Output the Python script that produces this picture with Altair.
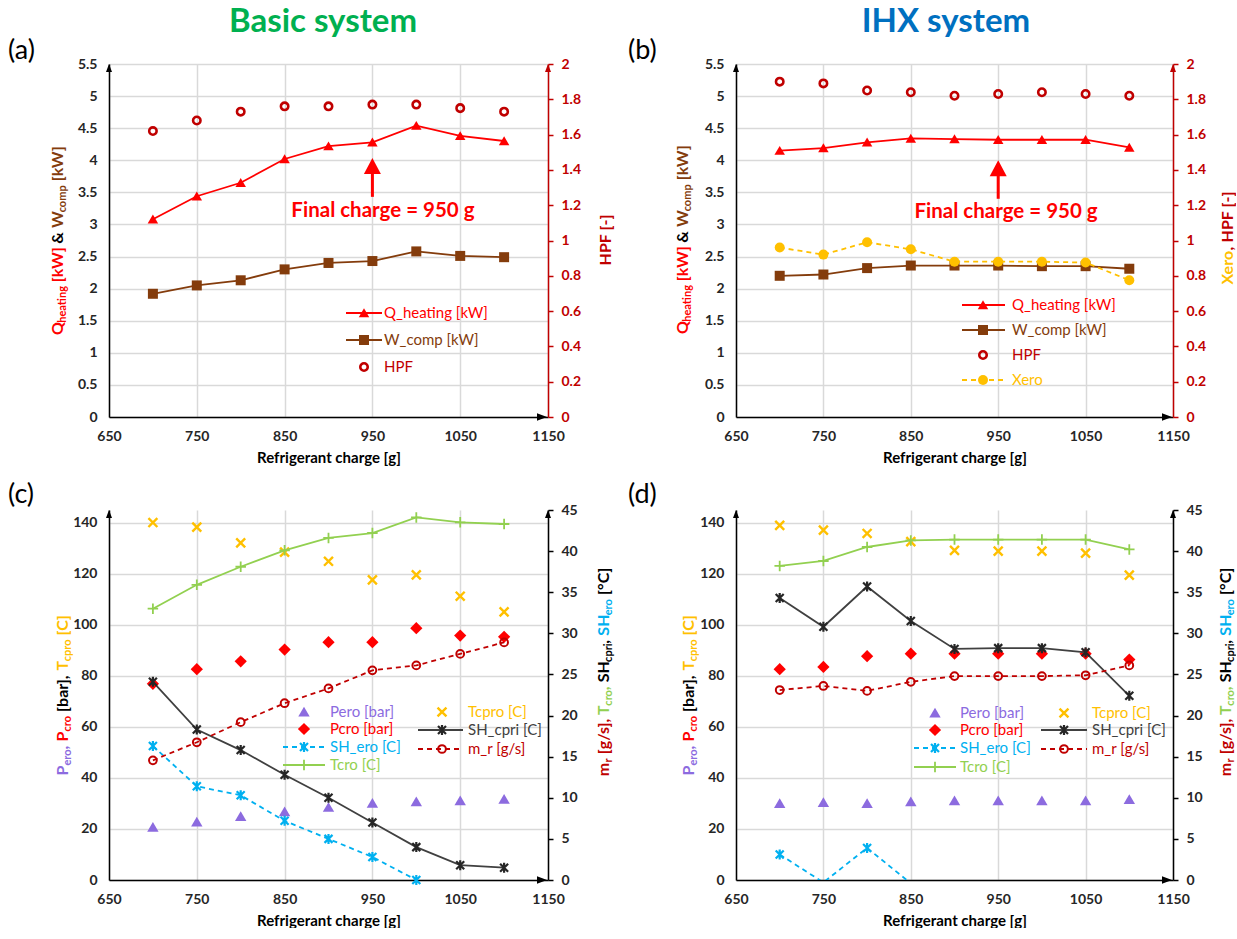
import altair as alt
import pandas as pd

# ---------------- data ----------------
charge = [700, 750, 800, 850, 900, 950, 1000, 1050, 1100]

# (a) Basic system
a_q_heating = [3.08, 3.44, 3.65, 4.02, 4.22, 4.28, 4.54, 4.38, 4.30]
a_w_comp = [1.92, 2.05, 2.13, 2.30, 2.40, 2.43, 2.58, 2.51, 2.49]
a_hpf = [1.62, 1.68, 1.73, 1.76, 1.76, 1.77, 1.77, 1.75, 1.73]

# (b) IHX system
b_q_heating = [4.15, 4.19, 4.28, 4.34, 4.33, 4.32, 4.32, 4.32, 4.20]
b_w_comp = [2.20, 2.22, 2.32, 2.36, 2.36, 2.36, 2.35, 2.35, 2.31]
b_hpf = [1.90, 1.89, 1.85, 1.84, 1.82, 1.83, 1.84, 1.83, 1.82]
b_xero = [0.96, 0.92, 0.99, 0.95, 0.88, 0.88, 0.88, 0.875, 0.775]

# (c) Basic system
c_pero = [20.7, 22.8, 24.9, 26.8, 28.5, 30.1, 30.7, 31.1, 31.7]
c_pcro = [76.9, 82.6, 85.7, 90.3, 93.2, 93.2, 98.7, 95.8, 95.3]
c_tcpro = [140.1, 138.3, 132.1, 128.5, 124.9, 117.6, 119.6, 111.2, 105.1]
c_tcro = [33.0, 35.9, 38.1, 40.1, 41.6, 42.2, 44.1, 43.5, 43.3]
c_sh_cpri = [24.1, 18.3, 15.8, 12.8, 10.0, 7.0, 4.0, 1.8, 1.5]
c_mr = [14.55, 16.75, 19.2, 21.5, 23.3, 25.5, 26.1, 27.5, 28.9]
c_sh_ero_charge = [700, 750, 800, 850, 900, 950, 1000]
c_sh_ero = [16.3, 11.4, 10.3, 7.2, 5.0, 2.8, 0.0]

# (d) IHX system
d_pero = [30.0, 30.4, 30.0, 30.7, 31.1, 31.1, 31.1, 31.1, 31.6]
d_pcro = [82.6, 83.5, 87.7, 88.7, 88.7, 88.7, 88.7, 88.7, 86.4]
d_tcpro = [139.0, 137.1, 135.8, 132.6, 129.2, 128.9, 128.9, 128.1, 119.5]
d_tcro = [38.2, 38.8, 40.5, 41.3, 41.4, 41.4, 41.4, 41.4, 40.2]
d_sh_cpri = [34.3, 30.8, 35.7, 31.5, 28.1, 28.2, 28.2, 27.7, 22.4]
d_mr = [23.1, 23.6, 23.0, 24.1, 24.8, 24.8, 24.8, 24.9, 26.1]
d_sh_ero_charge = [700, 750, 800, 850]
d_sh_ero = [3.1, -0.3, 3.9, -0.4]

x_ticks = [650, 750, 850, 950, 1050, 1150]
top_left_ticks = [0, 0.5, 1, 1.5, 2, 2.5, 3, 3.5, 4, 4.5, 5, 5.5]
top_right_ticks = [0, 0.2, 0.4, 0.6, 0.8, 1, 1.2, 1.4, 1.6, 1.8, 2]
bot_left_ticks = [0, 20, 40, 60, 80, 100, 120, 140]
bot_right_ticks = [0, 5, 10, 15, 20, 25, 30, 35, 40, 45]

# ---------------- styles ----------------
FONT = "Lato"
GRID = "#D9D9D9"
LBL = "#262626"
RED = "#FF0000"
DRED = "#C00000"
BROWN = "#843C0C"
YEL = "#FFC000"
PURP = "#8C6BDF"
GREEN = "#92D050"
CYAN = "#00B0F0"
BLK = "#262626"

TRI = "M0,-0.9L1,0.8L-1,0.8Z"
XS = "M-1,-1L1,1M-1,1L1,-1"
STAR = "M-1,-1L1,1M-1,1L1,-1M0,-1.25L0,1.25"
PLUS = "M-1,0L1,0M0,-1L0,1"
HEAD = "M0,-0.95L1,0.95L-1,0.95Z"
UP = "M0,-1L0.75,1L-0.75,1Z"
RIGHT = "M1,0L-1,-0.75L-1,0.75Z"

M_TRI_RED = dict(shape=TRI, size=110, filled=True, color=RED, opacity=1)
M_SQ = dict(shape="square", size=100, filled=True, color=BROWN, opacity=1)
M_HPF = dict(shape="circle", size=55, filled=False, color=DRED, strokeWidth=2.6, opacity=1)
M_XERO = dict(shape="circle", size=100, filled=True, color=YEL, opacity=1)
M_PERO = dict(shape=TRI, size=130, filled=True, color=PURP, opacity=1)
M_PCRO = dict(shape="diamond", size=150, filled=True, color=RED, opacity=1)
M_TCPRO = dict(shape=XS, size=80, filled=False, color=YEL, strokeWidth=2.4, opacity=1)
M_SHERO = dict(shape=STAR, size=64, filled=False, color=CYAN, strokeWidth=2.2, opacity=1)
M_SHCPRI = dict(shape=STAR, size=64, filled=False, color=BLK, strokeWidth=2.2, opacity=1)
M_TCRO = dict(shape=PLUS, size=110, filled=False, color=GREEN, strokeWidth=1.8, opacity=1)
M_MR = dict(shape="circle", size=60, filled=False, color=DRED, strokeWidth=2, opacity=1)

ONE = pd.DataFrame({"k": [0]})

XAXIS = alt.Axis(values=x_ticks, format="d", grid=True, gridColor=GRID, gridWidth=1.5,
                 domainColor="black", domainWidth=1.5, ticks=False, tickSize=0,
                 labelFont=FONT, labelFontSize=14, labelFontWeight="bold", labelColor=LBL,
                 labelPadding=12, labelFlush=False, labelOverlap=False,
                 title="Refrigerant charge [g]", titleFont=FONT, titleFontSize=15,
                 titleFontWeight="bold", titleColor="black", titlePadding=7)


def xenc():
    return alt.X("charge:Q", scale=alt.Scale(domain=[650, 1150], nice=False, zero=False), axis=XAXIS)


def yleft(dom, vals, fmt):
    return alt.Y("v:Q", scale=alt.Scale(domain=dom, nice=False, zero=True),
                 axis=alt.Axis(orient="left", values=vals, format=fmt, grid=True, gridColor=GRID,
                               gridWidth=1.5, domainColor="black", domainWidth=1.5, ticks=False,
                               tickSize=0, labelFont=FONT, labelFontSize=14, labelFontWeight="bold",
                               labelColor=LBL, labelPadding=12, labelOverlap=False, title=""))


def yright(dom, vals, col, lcol, fmt):
    return alt.Y("v:Q", scale=alt.Scale(domain=dom, nice=False, zero=True),
                 axis=alt.Axis(orient="right", values=vals, format=fmt, grid=False,
                               domainColor=col, domainWidth=1.5, ticks=True, tickColor=col,
                               tickSize=5, tickWidth=1.5, labelFont=FONT, labelFontSize=14,
                               labelFontWeight="bold", labelColor=lcol, labelPadding=8,
                               labelOverlap=False, title=""))


def series(xs, ys, yenc, line=None, marker=None, clip_line=False, marker_min=None):
    df = pd.DataFrame({"charge": xs, "v": ys})
    out = []
    if line:
        col, sw, dash = line
        kw = dict(color=col, strokeWidth=sw)
        if dash:
            kw["strokeDash"] = dash
        if clip_line:
            kw["clip"] = True
        out.append(alt.Chart(df).mark_line(**kw).encode(x=xenc(), y=yenc))
    if marker:
        mdf = df if marker_min is None else df[df["v"] >= marker_min]
        out.append(alt.Chart(mdf).mark_point(**marker).encode(x=xenc(), y=yenc))
    return out


def ptext(text, x, y, color, size, weight="normal", align="left", baseline="middle", angle=0):
    kw = dict(text=text, color=color, font=FONT, fontSize=size, fontWeight=weight,
              align=align, baseline=baseline)
    if angle:
        kw["angle"] = angle
    return alt.Chart(ONE).mark_text(**kw).encode(x=alt.value(x), y=alt.value(y))


WID = {'a': 0.51, 'b': 0.56, 'c': 0.46, 'd': 0.56, 'e': 0.53, 'f': 0.34, 'g': 0.51, 'h': 0.56,
       'i': 0.26, 'k': 0.53, 'l': 0.26, 'm': 0.86, 'n': 0.56, 'o': 0.56, 'p': 0.56, 'r': 0.38,
       's': 0.43, 't': 0.37, 'u': 0.56, 'w': 0.78, 'x': 0.51, 'y': 0.52,
       'P': 0.62, 'Q': 0.77, 'W': 0.98, 'T': 0.58, 'S': 0.52, 'H': 0.75, 'C': 0.67, 'F': 0.55,
       'X': 0.66, 'K': 0.67, ' ': 0.26, '[': 0.32, ']': 0.32, ',': 0.24, '&': 0.72, '/': 0.38,
       '°': 0.40, '-': 0.36}


def tw(s, fs):
    return sum(WID.get(ch, 0.55) for ch in s) * fs


def vtitle(segs, bx, cy, main=16, sub=11, subdx=3):
    ws = [tw(t, sub if s else main) for t, c, s in segs]
    pos = cy + sum(ws) / 2
    out = []
    for (t, c, s), w in zip(segs, ws):
        if t.strip():
            out.append(ptext(t, bx + (subdx if s else 0), pos, c, sub if s else main,
                             weight="bold", align="left", baseline="alphabetic", angle=270))
        pos -= w
    return out


def leg_item(y, mx, tx, text, tcolor, marker=None, line=None):
    out = []
    if line:
        x1, x2, col, dash, sw = line
        kw = dict(color=col, strokeWidth=sw)
        if dash:
            kw["strokeDash"] = dash
        out.append(alt.Chart(ONE).mark_rule(**kw).encode(x=alt.value(x1), x2=alt.value(x2), y=alt.value(y)))
    if marker:
        out.append(alt.Chart(ONE).mark_point(**marker).encode(x=alt.value(mx), y=alt.value(y)))
    out.append(ptext(text, tx, y, tcolor, 15))
    return out


def point_at(x, v, yenc, **kw):
    return alt.Chart(pd.DataFrame({"charge": [x], "v": [v]})).mark_point(**kw).encode(x=xenc(), y=yenc)


def axis_arrows(yl, ytop, rcol):
    return [
        point_at(650, ytop, yl, shape=UP, size=64, filled=True, color="black", opacity=1, yOffset=4),
        point_at(1150, ytop, yl, shape=UP, size=64, filled=True, color=rcol, opacity=1, yOffset=4),
        point_at(1150, 0, yl, shape=RIGHT, size=100, filled=True, color="black", opacity=1, xOffset=-6),
    ]


def charge_arrow(yl, shaft_lo, shaft_hi, head_mid, tx, ty):
    shaft = alt.Chart(pd.DataFrame({"charge": [950], "v": [shaft_lo], "v2": [shaft_hi]})).mark_rule(
        color=RED, strokeWidth=3).encode(x=xenc(), y=yl, y2="v2:Q")
    head = point_at(950, head_mid, yl, shape=HEAD, size=289, filled=True, color=RED, opacity=1)
    label = alt.Chart(pd.DataFrame({"charge": [tx], "v": [ty]})).mark_text(
        text="Final charge = 950 g", color=RED, font=FONT, fontSize=20.5, fontWeight="bold",
        align="center", baseline="middle").encode(x=xenc(), y=yl)
    return [shaft, head, label]


LEFT_TOP_TITLE = [("Q", RED, 0), ("heating", RED, 1), (" ", RED, 0), ("[kW]", RED, 0), (" ", RED, 0),
                  ("&", "black", 0), (" ", RED, 0), ("W", BROWN, 0), ("comp", BROWN, 1), (" ", RED, 0),
                  ("[kW]", BROWN, 0)]
LEFT_BOT_TITLE = [("P", PURP, 0), ("ero", PURP, 1), (",", PURP, 0), (" ", RED, 0), ("P", RED, 0),
                  ("cro", RED, 1), (" ", RED, 0), ("[bar],", "black", 0), (" ", RED, 0), ("T", YEL, 0),
                  ("cpro", YEL, 1), (" ", RED, 0), ("[C]", YEL, 0)]
RIGHT_BOT_TITLE = [("m", DRED, 0), ("r", DRED, 1), (" ", RED, 0), ("[g/s],", DRED, 0), (" ", RED, 0),
                   ("T", GREEN, 0), ("cro", GREEN, 1), (",", GREEN, 0), (" ", RED, 0),
                   ("SH", "black", 0), ("cpri", "black", 1), (",", "black", 0), (" ", RED, 0),
                   ("SH", CYAN, 0), ("ero", CYAN, 1), (" ", RED, 0), ("[°C]", "black", 0)]

# ---------------- panel (a) ----------------
WA, WB, HT, HB = 439, 437, 353, 370

ya = yleft([0, 5.5], top_left_ticks, "~g")
yar = yright([0, 2], top_right_ticks, DRED, DRED, "~g")
left_a = alt.layer(
    *series(charge, a_q_heating, ya, line=(RED, 1.8, None), marker=M_TRI_RED),
    *series(charge, a_w_comp, ya, line=(BROWN, 1.8, None), marker=M_SQ),
    *axis_arrows(ya, 5.5, DRED),
    *charge_arrow(ya, 3.43, 3.82, 3.91, 962, 3.21),
)
right_a = alt.layer(*series(charge, a_hpf, yar, marker=M_HPF))
over_a = [
    alt.Chart(ONE).mark_rule(strokeOpacity=0, strokeWidth=1).encode(
        x=alt.value(-108.5), x2=alt.value(-107.5), y=alt.value(-63.5)),
    ptext("Basic system", 214, -32, "#00B050", 33, weight="bold", align="center", baseline="alphabetic"),
    ptext("(a)", -101, -5, "black", 27, align="left", baseline="alphabetic"),
    *vtitle(LEFT_TOP_TITLE, -46, 177),
    *vtitle([("HPF", DRED, 0), (" ", RED, 0), ("[-]", DRED, 0)], 502, 176),
    *leg_item(249, 255, 275, "Q_heating [kW]", RED, M_TRI_RED, (237, 273, RED, None, 1.8)),
    *leg_item(276, 255, 275, "W_comp [kW]", BROWN, M_SQ, (237, 273, BROWN, None, 1.8)),
    *leg_item(303, 255, 275, "HPF", DRED, M_HPF),
]
pa = alt.layer(left_a, right_a, *over_a).resolve_scale(y="independent").properties(width=WA, height=HT)

# ---------------- panel (b) ----------------
yb = yleft([0, 5.5], top_left_ticks, "~g")
ybr = yright([0, 2], top_right_ticks, DRED, DRED, "~g")
left_b = alt.layer(
    *series(charge, b_q_heating, yb, line=(RED, 1.8, None), marker=M_TRI_RED),
    *series(charge, b_w_comp, yb, line=(BROWN, 1.8, None), marker=M_SQ),
    *axis_arrows(yb, 5.5, DRED),
    *charge_arrow(yb, 3.40, 3.80, 3.875, 959, 3.20),
)
right_b = alt.layer(
    *series(charge, b_hpf, ybr, marker=M_HPF),
    *series(charge, b_xero, ybr, line=(YEL, 1.8, [5, 4]), marker=M_XERO),
)
over_b = [
    ptext("IHX system", 210, -32, "#0070C0", 33, weight="bold", align="center", baseline="alphabetic"),
    ptext("(b)", -108, -5, "black", 27, align="left", baseline="alphabetic"),
    *vtitle(LEFT_TOP_TITLE, -48, 176),
    *vtitle([("Xero", YEL, 0), (",", DRED, 0), (" ", RED, 0), ("HPF", DRED, 0), (" ", RED, 0),
             ("[-]", DRED, 0)], 497, 174),
    *leg_item(241, 247, 276, "Q_heating [kW]", RED, M_TRI_RED, (226, 269, RED, None, 1.8)),
    *leg_item(266, 247, 276, "W_comp [kW]", BROWN, M_SQ, (226, 269, BROWN, None, 1.8)),
    *leg_item(291, 247, 276, "HPF", DRED, M_HPF),
    *leg_item(316, 247, 276, "Xero", YEL, M_XERO, (226, 269, YEL, [5, 4], 1.8)),
]
pb = alt.layer(left_b, right_b, *over_b).resolve_scale(y="independent").properties(width=WB, height=HT)


# ---------------- panels (c) and (d) ----------------
def bottom_panel(pero, pcro, tcpro, tcro, sh_cpri, mr, sh_ero_x, sh_ero, clip_ero, tag, tagx,
                 lbx, rbx, lmx, ltx, lline, rmx, rtx, rline, lrows, rrows, width):
    yl = yleft([0, 145], bot_left_ticks, "d")
    yr = yright([0, 45], bot_right_ticks, "black", LBL, "d")
    left = alt.layer(
        *series(charge, pero, yl, marker=M_PERO),
        *series(charge, pcro, yl, marker=M_PCRO),
        *series(charge, tcpro, yl, marker=M_TCPRO),
        *axis_arrows(yl, 145, "black"),
    )
    right = alt.layer(
        *series(sh_ero_x, sh_ero, yr, line=(CYAN, 1.8, [5, 4]), marker=M_SHERO,
                clip_line=clip_ero, marker_min=0),
        *series(charge, tcro, yr, line=(GREEN, 1.8, None), marker=M_TCRO),
        *series(charge, sh_cpri, yr, line=("#404040", 1.8, None), marker=M_SHCPRI),
        *series(charge, mr, yr, line=(DRED, 1.8, [5, 4]), marker=M_MR),
    )
    over = [
        ptext(tag, tagx, -7, "black", 27, align="left", baseline="alphabetic"),
        *vtitle(LEFT_BOT_TITLE, lbx, 185),
        *vtitle(RIGHT_BOT_TITLE, rbx, 162),
        *leg_item(lrows[0], lmx, ltx, "Pero [bar]", PURP, M_PERO),
        *leg_item(lrows[1], lmx, ltx, "Pcro [bar]", RED, M_PCRO),
        *leg_item(lrows[2], lmx, ltx, "SH_ero [C]", CYAN, M_SHERO, (lline[0], lline[1], CYAN, [5, 4], 1.8)),
        *leg_item(lrows[3], lmx, ltx, "Tcro [C]", GREEN, M_TCRO, (lline[0], lline[1], GREEN, None, 1.8)),
        *leg_item(rrows[0], rmx, rtx, "Tcpro [C]", YEL, M_TCPRO),
        *leg_item(rrows[1], rmx, rtx, "SH_cpri [C]", "#404040", M_SHCPRI,
                  (rline[0], rline[1], "#404040", None, 1.8)),
        *leg_item(rrows[2], rmx, rtx, "m_r [g/s]", DRED, M_MR, (rline[0], rline[1], DRED, [5, 4], 1.8)),
    ]
    return alt.layer(left, right, *over).resolve_scale(y="independent").properties(width=width, height=HB)


pc = bottom_panel(c_pero, c_pcro, c_tcpro, c_tcro, c_sh_cpri, c_mr, c_sh_ero_charge, c_sh_ero, False,
                  "(c)", -101, -41, 500, 195, 221, (174, 216), 333, 359, (309, 354),
                  (202, 219, 237, 255), (202, 220, 239), WA)
pd_ = bottom_panel(d_pero, d_pcro, d_tcpro, d_tcro, d_sh_cpri, d_mr, d_sh_ero_charge, d_sh_ero, True,
                   "(d)", -108, -42, 495, 199, 224, (178, 220), 328, 356, (305, 351),
                   (203, 220, 238, 257), (203, 220, 239), WB)

chart = alt.concat(pa, pb, pc, pd_, columns=2, spacing={"row": 93, "column": 188},
                   bounds="flush", align="each").properties(padding=0).configure_view(strokeWidth=0)

chart.save("out.html", embed_options={"renderer": "svg", "actions": False})
